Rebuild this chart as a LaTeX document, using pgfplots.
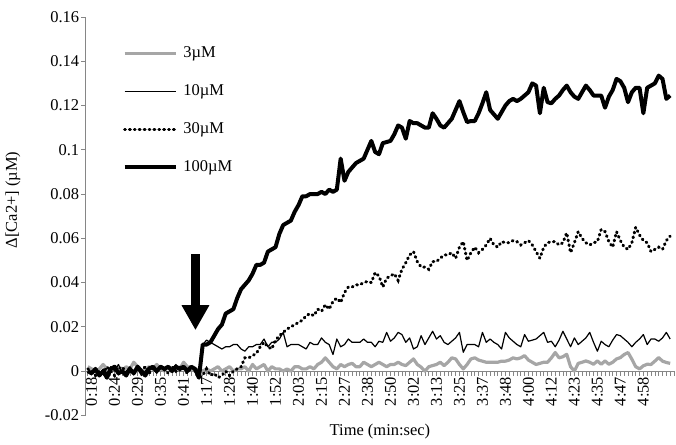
\documentclass[border=0pt]{standalone}
\usepackage{fontspec}
\setmainfont{Liberation Serif}
\usepackage{pgfplots}
\usepackage{pgfplotstable}
\pgfplotsset{compat=1.18}
\usetikzlibrary{arrows.meta}
\definecolor{lowgray}{HTML}{A6A6A6}
\definecolor{axisgray}{HTML}{868686}

% index = sample number on the category axis
\pgfplotstableread{
i c3 c10 c30 c100
0 0.002 0.000 0.001 0.000
1 0.001 -0.001 0.000 -0.001
2 0.000 0.001 -0.002 0.001
3 0.001 -0.002 0.000 -0.002
4 0.003 0.001 -0.001 0.000
5 0.001 -0.001 0.002 -0.003
6 0.000 0.002 0.000 0.001
7 0.002 0.000 -0.002 0.002
8 0.001 0.003 0.001 -0.001
9 0.000 -0.001 0.002 0.000
10 0.002 0.000 -0.001 -0.002
11 0.001 0.002 0.000 0.001
12 0.004 -0.001 -0.001 -0.001
13 0.002 0.001 0.001 0.002
14 0.000 -0.002 0.000 0.000
15 0.001 0.000 0.002 -0.002
16 0.002 0.002 -0.001 0.001
17 0.001 0.001 0.001 0.002
18 0.003 -0.001 0.000 0.000
19 0.001 0.002 0.002 0.002
20 0.000 0.000 0.001 0.001
21 0.002 0.002 -0.001 0.002
22 0.001 0.001 0.002 0.000
23 0.002 0.003 0.000 0.002
24 0.001 0.000 0.002 0.001
25 0.004 0.002 0.001 0.002
26 0.002 0.001 -0.001 0.000
27 0.001 0.002 0.002 0.002
28 0.000 0.000 0.000 0.001
29 0.001 -0.002 -0.003 -0.003
30 0.000 0.012 -0.002 0.012
31 0.001 0.014 0.001 0.012
32 0.000 0.013 -0.002 0.013
33 0.001 0.012 -0.001 0.016
34 0.002 0.011 -0.003 0.019
35 0.000 0.010 -0.002 0.021
36 0.001 0.011 0.000 0.026
37 0.002 0.011 -0.002 0.027
38 0.000 0.012 0.000 0.028
39 0.001 0.012 0.001 0.033
40 0.001 0.010 0.002 0.037
41 0.002 0.009 0.006 0.039
42 0.000 0.011 0.006 0.041
43 0.003 0.011 0.007 0.044
44 0.001 0.012 0.008 0.048
45 0.002 0.012 0.011 0.048
46 0.003 0.0145 0.013 0.049
47 0.000 0.011 0.011 0.054
48 0.002 0.013 0.010 0.055
49 0.001 0.013 0.014 0.056
50 0.001 0.0145 0.016 0.062
51 0.000 0.0175 0.0175 0.066
52 0.001 0.011 0.019 0.067
53 0.000 0.012 0.020 0.068
54 0.002 0.012 0.021 0.072
55 0.002 0.012 0.022 0.075
56 0.001 0.011 0.023 0.079
57 0.001 0.010 0.025 0.079
58 0.002 0.013 0.026 0.080
59 0.001 0.012 0.025 0.080
60 0.003 0.012 0.028 0.080
61 0.004 0.015 0.027 0.081
62 0.006 0.013 0.030 0.080
63 0.004 0.012 0.028 0.082
64 0.002 0.0075 0.0315 0.081
65 0.001 0.0145 0.033 0.082
66 0.003 0.011 0.031 0.096
67 0.002 0.012 0.0355 0.086
68 0.003 0.0145 0.038 0.090
69 0.0035 0.013 0.038 0.092
70 0.002 0.013 0.039 0.094
71 0.002 0.013 0.039 0.095
72 0.004 0.0145 0.040 0.096
73 0.003 0.013 0.0405 0.100
74 0.002 0.013 0.040 0.104
75 0.003 0.011 0.0445 0.099
76 0.004 0.0135 0.043 0.098
77 0.003 0.013 0.038 0.103
78 0.002 0.0175 0.042 0.1035
79 0.003 0.0135 0.043 0.104
80 0.003 0.015 0.044 0.107
81 0.004 0.0175 0.041 0.111
82 0.003 0.0165 0.046 0.110
83 0.0025 0.013 0.049 0.105
84 0.004 0.015 0.0525 0.113
85 0.0055 0.010 0.054 0.112
86 0.003 0.011 0.0495 0.112
87 0.0018 0.016 0.047 0.111
88 0.000 0.012 0.047 0.110
89 0.002 0.015 0.046 0.110
90 0.0025 0.018 0.0495 0.1165
91 0.003 0.0145 0.0495 0.114
92 0.004 0.016 0.051 0.111
93 0.0025 0.013 0.0525 0.110
94 0.004 0.012 0.0525 0.112
95 0.006 0.0135 0.0535 0.114
96 0.0055 0.015 0.051 0.118
97 0.003 0.0175 0.056 0.122
98 0.001 0.0085 0.0585 0.117
99 0.003 0.012 0.050 0.1125
100 0.0055 0.012 0.0535 0.113
101 0.006 0.012 0.056 0.113
102 0.005 0.011 0.0535 0.1165
103 0.0045 0.0175 0.055 0.121
104 0.004 0.013 0.057 0.126
105 0.004 0.0145 0.060 0.118
106 0.004 0.013 0.057 0.116
107 0.004 0.012 0.056 0.114
108 0.0045 0.010 0.0585 0.117
109 0.0045 0.0175 0.058 0.120
110 0.005 0.015 0.058 0.122
111 0.006 0.0135 0.059 0.123
112 0.0055 0.012 0.0585 0.122
113 0.006 0.011 0.057 0.123
114 0.007 0.0165 0.058 0.1245
115 0.005 0.0135 0.059 0.126
116 0.004 0.014 0.057 0.130
117 0.003 0.0145 0.054 0.129
118 0.0035 0.016 0.051 0.1165
119 0.004 0.0175 0.056 0.128
120 0.004 0.013 0.058 0.1215
121 0.006 0.0135 0.0585 0.121
122 0.0084 0.011 0.0585 0.123
123 0.006 0.014 0.057 0.1245
124 0.0065 0.018 0.058 0.127
125 0.0076 0.0145 0.0625 0.129
126 0.002 0.011 0.0535 0.126
127 0.000 0.015 0.058 0.124
128 0.0035 0.012 0.063 0.123
129 0.004 0.0135 0.060 0.126
130 0.0046 0.015 0.058 0.129
131 0.004 0.0175 0.057 0.127
132 0.0031 0.013 0.058 0.1245
133 0.0046 0.009 0.0585 0.1245
134 0.0031 0.0135 0.064 0.1245
135 0.0046 0.012 0.063 0.119
136 0.0031 0.011 0.0585 0.124
137 0.004 0.014 0.056 0.127
138 0.0055 0.0165 0.063 0.132
139 0.0061 0.016 0.059 0.131
140 0.0075 0.0145 0.056 0.128
141 0.0084 0.013 0.055 0.1215
142 0.0054 0.011 0.058 0.126
143 0.002 0.013 0.065 0.128
144 0.001 0.0145 0.0615 0.128
145 0.0024 0.0165 0.059 0.1165
146 0.0031 0.012 0.058 0.128
147 0.003 0.0145 0.054 0.129
148 0.0045 0.0145 0.055 0.130
149 0.0061 0.0135 0.056 0.1335
150 0.0045 0.015 0.055 0.132
151 0.0039 0.0175 0.059 0.123
152 0.0035 0.0145 0.061 0.1245
}\catrace

\begin{document}
\fontsize{16.5}{19}\selectfont
\begin{tikzpicture}
\begin{axis}[
    scale only axis,
    width=589pt, height=399pt,
    xmin=-0.5, xmax=153,
    ymin=-0.02, ymax=0.16,
    axis x line=middle, axis y line=left,
    axis line style={axisgray, line width=0.8pt, -},
    tick style={axisgray, line width=0.7pt},
    tick align=outside,
    major tick length=4.5pt, minor tick length=4.5pt,
    xtick={1,7,...,145},
    xticklabels={0:18,0:24,0:29,0:35,0:41,1:17,1:28,1:40,1:52,2:03,2:15,2:27,2:38,2:50,3:02,3:13,3:25,3:37,3:48,4:00,4:12,4:23,4:35,4:47,4:58},
    minor xtick={0,...,153},
    xticklabel style={rotate=90, anchor=east, inner sep=1pt},
    ytick={-0.02,0,0.02,0.04,0.06,0.08,0.1,0.12,0.14,0.16},
    yticklabels={-0.02,0,0.02,0.04,0.06,0.08,0.1,0.12,0.14,0.16},
    yticklabel style={inner sep=2pt},
    xlabel={Time (min:sec)},
    ylabel={Δ[Ca2+] (µM)},
    every axis x label/.style={at={(axis description cs:0.5,0)}, anchor=north, yshift=-3pt},
    every axis y label/.style={at={(axis description cs:-0.124,0.541)}, rotate=90, anchor=center},
    legend style={draw=none, fill=none, at={(axis description cs:0.062,0.93)}, anchor=north west,
        row sep=20.5pt, inner sep=0pt, nodes={inner sep=2pt}},
    legend cell align=left,
    legend image code/.code={\draw[#1] (0pt,0pt) -- (52pt,0pt); \path (55pt,0pt);},
]
\addplot[lowgray, line width=3.2pt, line join=round] table[x=i, y=c3] {\catrace};
\addlegendentry{3µM}
\addplot[black, line width=1.2pt, line join=round] table[x=i, y=c10] {\catrace};
\addlegendentry{10µM}
\addplot[black, line width=3pt, line cap=round, dash pattern=on 0.9pt off 4pt] table[x=i, y=c30] {\catrace};
\addlegendentry{30µM}
\addplot[black, line width=4pt, line join=round] table[x=i, y=c100] {\catrace};
\addlegendentry{100µM}
% addition marker
\draw[line width=9pt, -{Triangle[width=26pt, length=25pt]}] (axis cs:28.1,0.0527) -- (axis cs:28.1,0.0185);
\coordinate (bl) at (rel axis cs:0,0);
\coordinate (tr) at (rel axis cs:1,1);
\end{axis}
\path ([shift={(-85pt,-23pt)}]bl) rectangle ([shift={(2pt,17pt)}]tr);
\end{tikzpicture}
\end{document}
